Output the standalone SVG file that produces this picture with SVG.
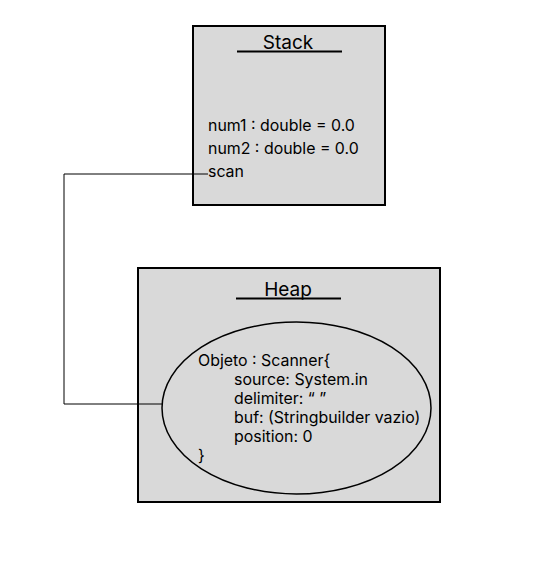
<svg xmlns="http://www.w3.org/2000/svg" width="550" height="565" viewBox="0 0 550 565">
<style>
.box{fill:#d9d9d9;stroke:#000;stroke-width:2}
.t{font-family:Inter,"Liberation Sans",sans-serif;font-size:15.9px;fill:#000}
.h{font-family:Inter,"Liberation Sans",sans-serif;font-size:19px;fill:#000;text-anchor:middle}
.u{stroke:#000;stroke-width:2}
.c{fill:none;stroke:#000;stroke-width:1}
</style>
<rect width="550" height="565" fill="#fff"/>
<g id="stack">
<rect class="box" x="193" y="26" width="192" height="179"/>
<text class="h" x="288" y="49">Stack</text>
<line class="u" x1="237" y1="51.5" x2="342" y2="51.5"/>
<text class="t" x="208" y="131">num1 : double = 0.0</text>
<text class="t" x="208" y="154">num2 : double = 0.0</text>
<text class="t" x="208" y="177">scan</text>
</g>
<g id="heap">
<rect class="box" x="138" y="268" width="302" height="234"/>
<text class="h" x="288" y="296">Heap</text>
<line class="u" x1="236" y1="298.5" x2="341" y2="298.5"/>
</g>
<g id="scanner">
<ellipse cx="296.5" cy="408" rx="134.5" ry="86" fill="#d9d9d9" stroke="#000" stroke-width="1.5"/>
<text class="t" x="198" y="366">Objeto : Scanner{</text>
<text class="t" x="234" y="385">source: System.in</text>
<text class="t" x="234" y="404">delimiter: “ ”</text>
<text class="t" x="234" y="423">buf: (Stringbuilder vazio)</text>
<text class="t" x="234" y="442">position: 0</text>
<text class="t" x="198" y="461">}</text>
</g>
<g id="connectors">
<polyline class="c" points="208,174 64,174 64,404 162,404"/>
</g>
</svg>
